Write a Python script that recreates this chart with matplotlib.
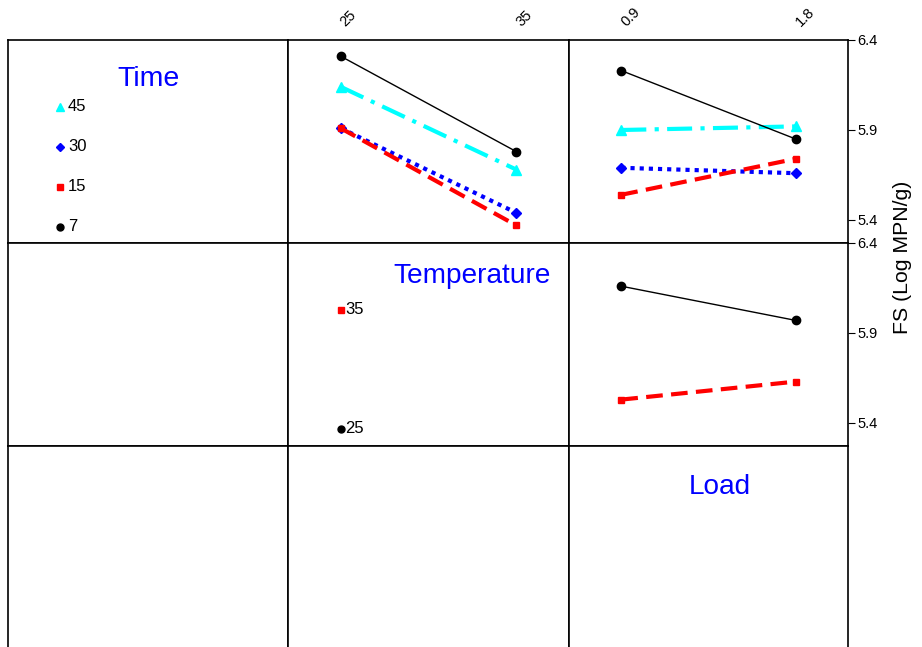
import matplotlib
matplotlib.use('Agg')
import matplotlib.pyplot as plt
import matplotlib.transforms as mtransforms

plt.rcParams['font.family'] = ['Liberation Sans', 'DejaVu Sans']

# factor levels
time_levels = ['45', '30', '15', '7']
temp_levels = ['25', '35']
load_levels = ['0.9', '1.8']

# FS (Log MPN/g) means, Time lines vs Temperature
time_temp_45 = [6.14, 5.68]
time_temp_30 = [5.91, 5.44]
time_temp_15 = [5.91, 5.37]
time_temp_7 = [6.31, 5.78]

# Time lines vs Load
time_load_45 = [5.90, 5.92]
time_load_30 = [5.69, 5.66]
time_load_15 = [5.54, 5.74]
time_load_7 = [6.23, 5.85]

# Temperature lines vs Load
temp_load_35 = [5.53, 5.63]
temp_load_25 = [6.16, 5.97]

time_temp = [time_temp_45, time_temp_30, time_temp_15, time_temp_7]
time_load = [time_load_45, time_load_30, time_load_15, time_load_7]
temp_load = [temp_load_35, temp_load_25]

# styles per level
time_styles = [
    dict(color='cyan', ls=(0, (6, 2, 1, 2)), lw=3, marker='^', ms=7),
    dict(color='blue', ls=(0, (1, 1.2)), lw=3, marker='D', ms=5),
    dict(color='red', ls=(0, (4, 2)), lw=3, marker='s', ms=5),
    dict(color='black', ls='-', lw=1, marker='o', ms=6),
]
temp_styles = [time_styles[2], time_styles[3]]
temp_legend = ['35', '25']

W, H = 922, 647
fig = plt.figure(figsize=(W / 100, H / 100), dpi=100)

x_edges = [8, 288, 569, 848]
y_top = 40
row_h = 203
ylim = (6.4 - row_h / 180, 6.4)
xlim = (-0.3, 1.3)

axes = {}
for r in range(3):
    for c in range(3):
        left = x_edges[c] / W
        width = (x_edges[c + 1] - x_edges[c]) / W
        bottom = 1 - (y_top + (r + 1) * row_h) / H
        ax = fig.add_axes([left, bottom, width, row_h / H])
        ax.set_xlim(*xlim)
        ax.set_ylim(*ylim)
        ax.set_xticks([])
        ax.set_yticks([])
        for s in ax.spines.values():
            s.set_linewidth(1.2)
        axes[(r, c)] = ax

# Time x Temperature
ax = axes[(0, 1)]
for vals, st in zip(time_temp, time_styles):
    ax.plot(range(len(temp_levels)), vals, **st)

# Time x Load
ax = axes[(0, 2)]
for vals, st in zip(time_load, time_styles):
    ax.plot(range(len(load_levels)), vals, **st)

# Temperature x Load
ax = axes[(1, 2)]
for vals, st in zip(temp_load, temp_styles):
    ax.plot(range(len(load_levels)), vals, **st)

# top tick labels
shift = mtransforms.ScaledTranslation(7 / 100, 0, fig.dpi_scale_trans)
for c, levels in [(1, temp_levels), (2, load_levels)]:
    ax = axes[(0, c)]
    ax.set_xticks(range(len(levels)))
    ax.set_xticklabels(levels, rotation=45, ha='left', va='bottom',
                       rotation_mode='anchor', fontsize=10.5)
    ax.tick_params(axis='x', bottom=False, labelbottom=False, top=False,
                   labeltop=True, length=0, pad=8)
    for lbl in ax.get_xticklabels():
        lbl.set_transform(lbl.get_transform() + shift)

# right y ticks
for r in [0, 1]:
    ax = axes[(r, 2)]
    ax.set_yticks([5.4, 5.9, 6.4])
    ax.yaxis.tick_right()
    ax.tick_params(axis='y', direction='out', length=5, labelsize=10.5, pad=2)

fig.text(0.979, 0.603, 'FS (Log MPN/g)', rotation=90, ha='center',
         va='center', fontsize=15.3)

# diagonal cells: factor names and level keys
ax = axes[(0, 0)]
ax.text(0.5, 0.81, 'Time', color='blue', fontsize=20.5, ha='center',
        va='center', transform=ax.transAxes)
for lab, st, yy in zip(time_levels, time_styles, [0.67, 0.473, 0.276, 0.079]):
    ax.plot([0.186], [yy], transform=ax.transAxes, color=st['color'],
            marker=st['marker'], ms=st['ms'] - 1, ls='none')
    ax.text(0.214, yy, lab, fontsize=12, va='center', transform=ax.transAxes)

ax = axes[(1, 1)]
ax.text(0.655, 0.837, 'Temperature', color='blue', fontsize=20.2,
        ha='center', va='center', transform=ax.transAxes)
for lab, st, yy in zip(temp_legend, temp_styles, [0.67, 0.084]):
    ax.plot([0.19], [yy], transform=ax.transAxes, color=st['color'],
            marker=st['marker'], ms=st['ms'] - 1, ls='none')
    ax.text(0.205, yy, lab, fontsize=12, va='center', transform=ax.transAxes)

ax = axes[(2, 2)]
ax.text(0.54, 0.80, 'Load', color='blue', fontsize=20.2, ha='center',
        va='center', transform=ax.transAxes)

fig.savefig('out.png', dpi=100)
